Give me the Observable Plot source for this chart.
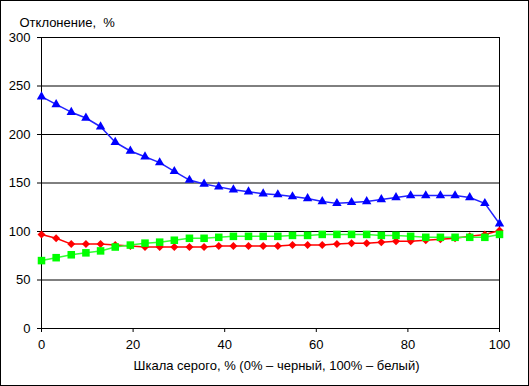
<!DOCTYPE html>
<html>
<head>
<meta charset="utf-8">
<script src="https://cdn.jsdelivr.net/npm/d3@7"></script>
<script src="https://cdn.jsdelivr.net/npm/@observablehq/plot@0.6"></script>
<style>
  html, body { margin: 0; padding: 0; background: #fff; }
  #wrap { position: relative; width: 529px; height: 386px; }
  #border { position: absolute; left: 0; top: 0; width: 529px; height: 386px; box-sizing: border-box; border: 1px solid #000; pointer-events: none; }
</style>
</head>
<body>
<div id="wrap"><div id="border"></div></div>
<script>
const xs = [0, 3.2, 6.5, 9.7, 12.9, 16.1, 19.4, 22.6, 25.8, 29.0, 32.3, 35.5, 38.7, 41.9, 45.2, 48.4,
            51.6, 54.8, 58.1, 61.3, 64.5, 67.7, 71.0, 74.2, 77.4, 80.6, 83.9, 87.1, 90.3, 93.5, 96.8, 100];
const blue = [239, 231, 223, 217, 208, 192, 183, 177, 171, 162, 153, 149, 146, 143, 141, 139,
              138, 136, 134, 131, 129, 130, 131, 133, 135, 137, 137, 137, 137, 135, 129, 108];
const red = [97, 93, 87, 87, 87, 86, 85, 84, 84, 84, 84, 84, 85, 85, 85, 85,
             85, 86, 86, 86, 87, 88, 88, 89, 90, 90, 91, 92, 93, 95, 97, 101];
const green = [70, 73, 76, 78, 80, 84, 86, 88, 89, 91, 93, 93, 94, 95, 95, 95,
               95, 96, 96, 97, 97, 97, 97, 96, 96, 95, 94, 94, 94, 94, 94, 97];
const yTicks = [0, 50, 100, 150, 200, 250, 300];
const xTicks = [0, 20, 40, 60, 80, 100];
const yTitle = "Отклонение,\u00a0 %";
const xTitle = "Шкала серого, % (0% – черный, 100% – белый)";

const rows = s => xs.map((x, i) => ({x, y: s[i]}));
const redRows = rows(red), greenRows = rows(green), blueRows = rows(blue);

const chart = Plot.plot({
  width: 529, height: 386,
  marginLeft: 41, marginRight: 30, marginTop: 37, marginBottom: 58,
  x: {domain: [0, 100]},
  y: {domain: [0, 300]},
  style: {fontFamily: "'Liberation Sans', Arial, sans-serif", fontSize: "13px", color: "#000", background: "transparent"},
  marks: [
    Plot.ruleY(yTicks.slice(1), {stroke: "#000", strokeWidth: 1}),
    Plot.frame({stroke: "#000"}),
    Plot.axisY({ticks: yTicks, tickSize: 4, tickPadding: 7, label: null, stroke: "#000"}),
    Plot.axisX({ticks: xTicks, tickSize: 4, tickPadding: 7, label: null, stroke: "#000"}),
    Plot.line(redRows, {x: "x", y: "y", stroke: "#ff0000", strokeWidth: 1.5}),
    Plot.dot(redRows, {x: "x", y: "y", symbol: "diamond2", r: 3.6, fill: "#ff0000", stroke: "none"}),
    Plot.line(greenRows, {x: "x", y: "y", stroke: "#33ff33", strokeWidth: 1.5}),
    Plot.dot(greenRows, {x: "x", y: "y", symbol: "square2", r: 4.8, fill: "#00ff00", stroke: "none"}),
    Plot.line(blueRows, {x: "x", y: "y", stroke: "#2222ff", strokeWidth: 1.5}),
    Plot.dot(blueRows, {x: "x", y: "y", symbol: "triangle2", r: 4.5, fill: "#0000ff", stroke: "none"}),
    Plot.text([yTitle], {frameAnchor: "top-left", dx: -22, dy: -20, textAnchor: "start"}),
    Plot.text([xTitle], {frameAnchor: "bottom", dx: 6, dy: 41})
  ]
});
document.getElementById("wrap").prepend(chart);
</script>
</body>
</html>
